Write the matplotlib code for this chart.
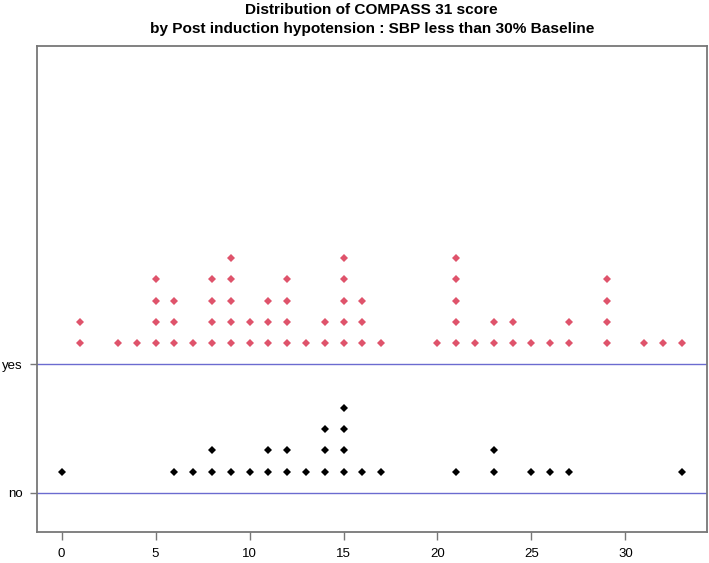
import matplotlib
matplotlib.use("Agg")
import matplotlib.pyplot as plt

plt.rcParams['font.family'] = ['Liberation Sans', 'DejaVu Sans']

# COMPASS 31 scores and number of patients at each score
yes_scores = [1, 3, 4, 5, 6, 7, 8, 9, 10, 11, 12, 13, 14, 15, 16, 17,
              20, 21, 22, 23, 24, 25, 26, 27, 29, 31, 32, 33]
yes_counts = [2, 1, 1, 4, 3, 1, 4, 5, 2, 3, 4, 1, 2, 5, 3, 1,
              1, 5, 1, 2, 2, 1, 1, 2, 4, 1, 1, 1]
no_scores = [0, 6, 7, 8, 9, 10, 11, 12, 13, 14, 15, 16, 17, 21, 23, 25, 26, 27, 33]
no_counts = [1, 1, 1, 2, 1, 1, 2, 2, 1, 3, 4, 1, 1, 1, 2, 1, 1, 1, 1]

group_labels = ["no", "yes"]
x_ticks = [0, 5, 10, 15, 20, 25, 30]

W, H = 709, 563
fig = plt.figure(figsize=(W / 100, H / 100), dpi=100)
ax = fig.add_axes([36.7 / W, 1 - 531.7 / H, (706.7 - 36.7) / W, (531.7 - 46) / H])

step = 0.166
first = 0.162

def stack(scores, counts, base):
    xs, ys = [], []
    for s, c in zip(scores, counts):
        for k in range(c):
            xs.append(s)
            ys.append(base + first + k * step)
    return xs, ys

xn, yn = stack(no_scores, no_counts, 1)
xy, yy = stack(yes_scores, yes_counts, 2)

ax.axhline(1, color='#6b6bd0', lw=1.0, zorder=1)
ax.axhline(2, color='#6b6bd0', lw=1.0, zorder=1)
ax.plot(xn, yn, linestyle='none', marker='D', ms=3.7, mew=0, color='black', zorder=3)
ax.plot(xy, yy, linestyle='none', marker='D', ms=3.7, mew=0, color='#DF536B', zorder=3)

ax.set_xlim(-1.32, 34.32)
ax.set_ylim(0.695, 4.475)
ax.set_xticks(x_ticks)
ax.set_xticklabels([str(t) for t in x_ticks], fontsize=9.5)
ax.set_yticks([1, 2])
ax.set_yticklabels(group_labels, fontsize=9.5)
ax.tick_params(axis='x', length=5.8, width=1, color='#777777', pad=6)
ax.tick_params(axis='y', length=5, width=1, color='#777777', pad=5)
for sp in ax.spines.values():
    sp.set_color('#777777')
    sp.set_linewidth(1.3)

xc = 0.5 * (36.7 + 706.7) / W
fig.text(xc, 1 - 9.5 / H, "Distribution of COMPASS 31 score",
         ha='center', va='center', fontsize=11.1, fontweight='bold')
fig.text(xc, 1 - 28.5 / H,
         "by Post induction hypotension : SBP less than 30% Baseline",
         ha='center', va='center', fontsize=11.1, fontweight='bold')

fig.savefig("out.png", dpi=100)
